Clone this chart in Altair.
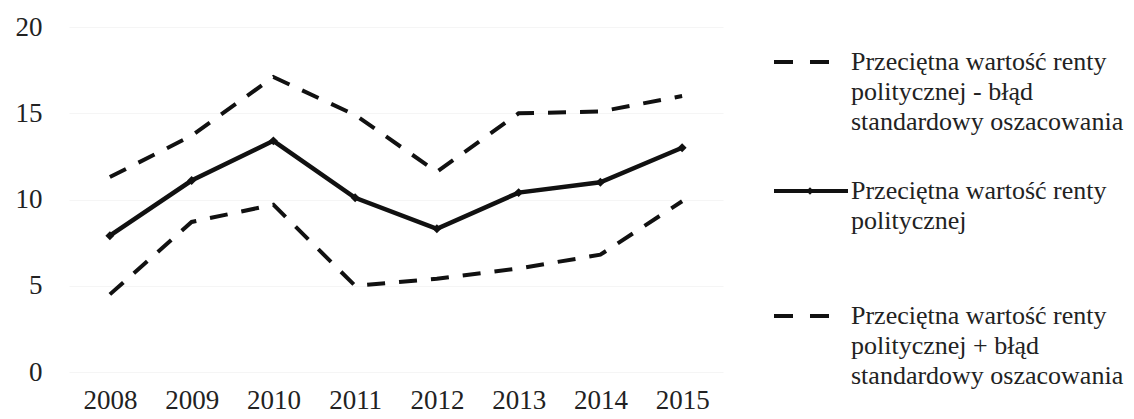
import altair as alt
import pandas as pd

# ---- data ----
years = ["2008", "2009", "2010", "2011", "2012", "2013", "2014", "2015"]
mean_vals = [7.9, 11.1, 13.4, 10.1, 8.3, 10.4, 11.0, 13.0]
upper_vals = [11.3, 13.7, 17.1, 14.9, 11.6, 15.0, 15.1, 16.0]
lower_vals = [4.5, 8.7, 9.7, 5.0, 5.4, 6.0, 6.8, 9.9]
y_ticks = [0, 5, 10, 15, 20]

legend_lines = [
    ["Przeciętna wartość renty", "politycznej - błąd", "standardowy oszacowania"],
    ["Przeciętna wartość renty", "politycznej"],
    ["Przeciętna wartość renty", "politycznej + błąd", "standardowy oszacowania"],
]
legend_first_row = [0.0, 4.3, 8.47]

FONT = "Liberation Serif"
INK = "#111111"
TXT = "#222222"

df = pd.DataFrame({
    "rok": years * 3,
    "wartosc": upper_vals + mean_vals + lower_vals,
    "seria": ["minus"] * 8 + ["srednia"] * 8 + ["plus"] * 8,
})

W, H = 654, 345

base = alt.Chart(df).encode(
    x=alt.X("rok:O", title=None,
            axis=alt.Axis(labelAngle=0, labelFont=FONT, labelFontSize=27, labelColor=TXT,
                          labelPadding=15, domain=False, ticks=False, grid=False)),
    y=alt.Y("wartosc:Q", title=None, scale=alt.Scale(domain=[0, 20], nice=False),
            axis=alt.Axis(values=y_ticks, labelFont=FONT, labelFontSize=27, labelColor=TXT,
                          labelPadding=27, domain=False, ticks=False, grid=True,
                          gridColor="#f5f5f5")),
)

dashed = base.transform_filter(alt.datum.seria != "srednia").mark_line(
    strokeDash=[18, 14], strokeWidth=4, color=INK, strokeCap="butt"
).encode(detail="seria:N")

solid = base.transform_filter(alt.datum.seria == "srednia").mark_line(
    strokeWidth=4.5, color=INK
)
points = base.transform_filter(alt.datum.seria == "srednia").mark_point(
    shape="diamond", filled=True, size=80, color=INK, opacity=1
)

main = alt.layer(dashed, solid, points).properties(width=W, height=H)

# ---- legend panel ----
rows = []
for i, lines in enumerate(legend_lines):
    for j, t in enumerate(lines):
        rows.append({"entry": i, "r": legend_first_row[i] + j, "tekst": t, "first": j == 0})
leg_df = pd.DataFrame(rows)

yscale = alt.Scale(domain=[-35 / 30, (H - 35) / 30], reverse=True)
lbase = alt.Chart(leg_df).encode(y=alt.Y("r:Q", scale=yscale, axis=None))

ltext = lbase.mark_text(align="left", baseline="middle", font=FONT, fontSize=26,
                        color=TXT).encode(x=alt.value(77), text="tekst:N")
ldash = lbase.transform_filter((alt.datum.first) & (alt.datum.entry != 1)).mark_rule(
    strokeDash=[19, 17], strokeWidth=4, color=INK, strokeCap="butt"
).encode(x=alt.value(0), x2=alt.value(55))
lsolid = lbase.transform_filter((alt.datum.first) & (alt.datum.entry == 1)).mark_rule(
    strokeWidth=4, color=INK
).encode(x=alt.value(0), x2=alt.value(74))
lpt = lbase.transform_filter((alt.datum.first) & (alt.datum.entry == 1)).mark_point(
    shape="diamond", filled=True, size=55, color=INK, opacity=1
).encode(x=alt.value(36))

legend = alt.layer(ldash, lsolid, lpt, ltext).properties(width=340, height=H)

chart = alt.hconcat(main, legend, spacing=49).properties(
    padding={"left": 7, "top": 5, "right": 0, "bottom": 0},
    background="white",
).configure_view(stroke=None)

chart.save("out.html", embed_options={"renderer": "svg", "actions": False})
